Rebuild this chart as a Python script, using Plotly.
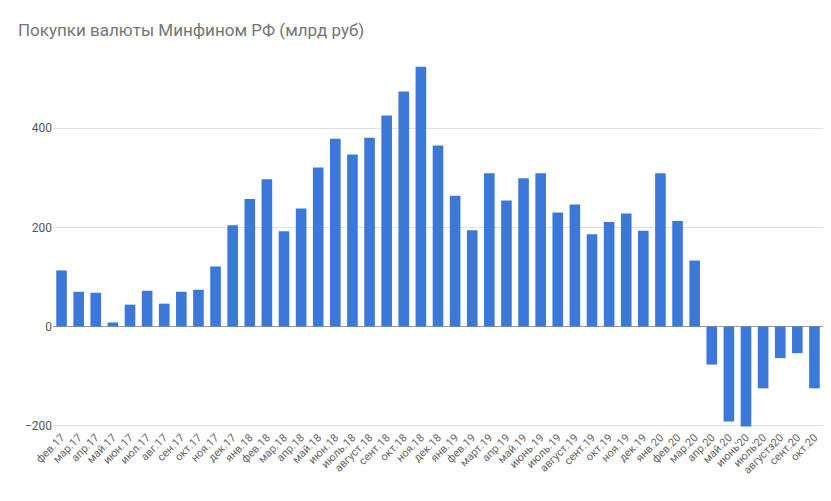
import plotly.graph_objects as go

months = [
    "фев.17", "мар.17", "апр.17", "май.17", "июн.17", "июл.17", "авг.17", "сен.17",
    "окт.17", "ноя.17", "дек.17", "янв.18", "фев.18", "мар.18", "апр.18", "май.18",
    "июн.18", "июль.18", "август.18", "сент.18", "окт.18", "ноя.18", "дек.18", "янв.19",
    "фев.19", "март.19", "апр.19", "май.19", "июнь.19", "июль.19", "август.19", "сент.19",
    "окт.19", "ноя.19", "дек.19", "янв.20", "фев.20", "мар.20", "апр.20", "май.20",
    "июнь'20", "июль'20", "августз20", "сент.20", "окт.20",
]
purchases = [
    113, 70, 68, 8, 44, 72, 46, 70, 74, 121, 204, 257, 297, 192, 238, 321,
    379, 347, 381, 426, 474, 524, 365, 264, 194, 309, 254, 299, 309, 230, 246, 186,
    211, 228, 193, 309, 213, 133, -77, -192, -202, -125, -64, -54, -125,
]

fig = go.Figure(go.Bar(x=months, y=purchases, marker_color="#3c78d8", marker_line_width=0, width=0.62))

fig.update_layout(
    width=831, height=501,
    margin=dict(l=45, r=16, t=41, b=81),
    paper_bgcolor="white", plot_bgcolor="white",
    font=dict(family="Roboto, Arial, sans-serif", color="#444"),
    title=dict(text="Покупки валюты Минфином РФ (млрд руб)", x=0.012, xanchor="left",
               y=0.956, yanchor="middle", font=dict(size=17, color="#757575")),
    showlegend=False,
)
fig.update_xaxes(tickangle=-45, tickfont=dict(size=11, color="#666"), showgrid=False, ticks="")
fig.update_yaxes(range=[-205, 560], tickvals=[-200, 0, 200, 400], gridcolor="#e0e0e0",
                 zeroline=True, zerolinecolor="#999", zerolinewidth=1,
                 tickfont=dict(size=12, color="#555"))

fig.write_html("out.html")
